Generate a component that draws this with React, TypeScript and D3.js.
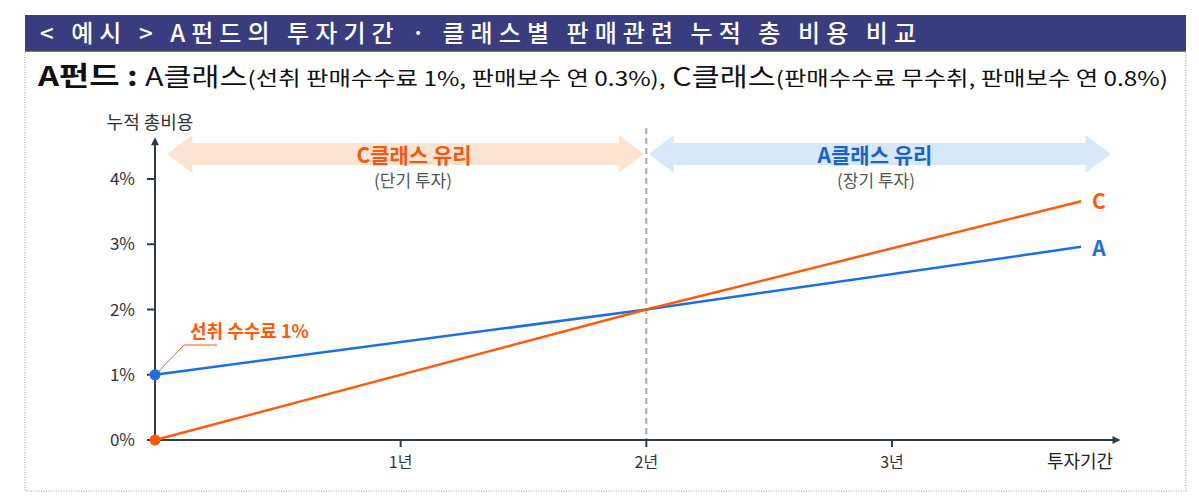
import * as d3 from 'd3'

// 투자기간(년) / 누적 총비용(%)
const years = [0, 2, 3.77]
const classA = [1, 2, 2.96]
const classC = [0, 2, 3.66]
const yTicks = [0, 1, 2, 3, 4]
const xTicks = [1, 2, 3]
const xTickLabels = ['1년', '2년', '3년']

const W = 1199, H = 498
const FONT = "'Noto Sans CJK KR', 'Noto Sans', sans-serif"
const AXIS = '#2f3a4b'
const BLUE = '#1b6fde'
const ORANGE = '#ff5a0a'

function doubleArrow(x0: number, x1: number, cy: number, h = 11, hh = 19, L = 25) {
  return [
    [x0, cy], [x0 + L, cy - hh], [x0 + L, cy - h], [x1 - L, cy - h], [x1 - L, cy - hh],
    [x1, cy], [x1 - L, cy + hh], [x1 - L, cy + h], [x0 + L, cy + h], [x0 + L, cy + hh],
  ].map(p => p.join(',')).join(' ')
}

export default function App() {
  const x = d3.scaleLinear().domain([0, 3]).range([155, 892])
  const y = d3.scaleLinear().domain([0, 4]).range([440, 179])
  const line = d3.line<number>().x((_, i) => x(years[i])).y(v => y(v))
  const xEnd = x(3.93), yTop = y(4.64)
  const mid = x(2)
  const arrowY = 154

  return (
    <svg width={W} height={H} style={{ position: 'absolute', left: 0, top: 0, background: '#fff' }} fontFamily={FONT}>
      {/* title bar */}
      <rect x={25} y={15} width={1161} height={36} fill="#3a3c80" />
      <line x1={25} x2={1186} y1={51} y2={51} stroke="#4a4a4a" strokeWidth={1.5} />
      <text x={40} y={42} fill="#fff" fontSize={24} fontWeight={500} textLength={876} lengthAdjust="spacing">
        {'< 예시 > A펀드의 투자기간 · 클래스별 판매관련 누적 총 비용 비교'}
      </text>
      {/* dotted frame */}
      <path d="M25,52 V491 H1186 V52" fill="none" stroke="#9a9a9a" strokeDasharray="1,1.5" />

      {/* subtitle */}
      <text x={38} y={86} fill="#111" textLength={1130} lengthAdjust="spacingAndGlyphs">
        <tspan fontSize={27} fontWeight={700}>A펀드 : </tspan>
        <tspan fontSize={25}>A클래스</tspan>
        <tspan fontSize={20}>(선취 판매수수료 1%, 판매보수 연 0.3%),</tspan>
        <tspan fontSize={25}>{'  C클래스'}</tspan>
        <tspan fontSize={20}>(판매수수료 무수취, 판매보수 연 0.8%)</tspan>
      </text>

      {/* zone arrows */}
      <polygon points={doubleArrow(x(0.05), x(1.99), arrowY)} fill="#fde4d2" />
      <polygon points={doubleArrow(x(2.01), x(3.89), arrowY)} fill="#d8e7f9" />
      <line x1={mid} x2={mid} y1={128} y2={y(0)} stroke="#a9a9a9" strokeWidth={2} strokeDasharray="6,4" />
      <text x={414} y={163} textAnchor="middle" fill="#f05a12" fontSize={21} fontWeight={700}>C클래스 유리</text>
      <text x={413} y={187} textAnchor="middle" fill="#555" fontSize={17}>(단기 투자)</text>
      <text x={875} y={163} textAnchor="middle" fill="#1a64c8" fontSize={21} fontWeight={700}>A클래스 유리</text>
      <text x={876} y={187} textAnchor="middle" fill="#555" fontSize={17}>(장기 투자)</text>

      {/* axes */}
      <line x1={x(0)} x2={x(0)} y1={y(0) + 1} y2={yTop + 6} stroke={AXIS} strokeWidth={2} />
      <polygon points={`${x(0) - 4},${yTop + 8} ${x(0)},${yTop} ${x(0) + 4},${yTop + 8}`} fill={AXIS} />
      <line x1={x(0) - 1} x2={xEnd - 6} y1={y(0)} y2={y(0)} stroke={AXIS} strokeWidth={2} />
      <polygon points={`${xEnd - 8},${y(0) - 4} ${xEnd},${y(0)} ${xEnd - 8},${y(0) + 4}`} fill={AXIS} />
      <text x={150} y={129} textAnchor="middle" fill="#333" fontSize={18}>누적 총비용</text>
      {yTicks.map(t => (
        <g key={t}>
          <line x1={x(0) - 8} x2={x(0)} y1={y(t)} y2={y(t)} stroke={AXIS} strokeWidth={2} />
          <text x={135} y={y(t) + 6} textAnchor="end" fill="#333" fontSize={17}>{t}%</text>
        </g>
      ))}
      {xTicks.map((t, i) => (
        <g key={t}>
          <line x1={x(t)} x2={x(t)} y1={y(0)} y2={y(0) + 7} stroke={AXIS} strokeWidth={2} />
          <text x={x(t)} y={468} textAnchor="middle" fill="#333" fontSize={16}>{xTickLabels[i]}</text>
        </g>
      ))}
      <text x={1080} y={468} textAnchor="middle" fill="#222" fontSize={18}>투자기간</text>

      {/* series */}
      <path d={line(classA) ?? ''} fill="none" stroke={BLUE} strokeWidth={2.5} />
      <path d={line(classC) ?? ''} fill="none" stroke={ORANGE} strokeWidth={2.5} />
      <circle cx={x(years[0])} cy={y(classA[0])} r={5.5} fill={BLUE} />
      <circle cx={x(years[0])} cy={y(classC[0])} r={5.5} fill={ORANGE} />
      <text x={1099} y={209} textAnchor="middle" fill={ORANGE} fontSize={21} fontWeight={700}>C</text>
      <text x={1099} y={256} textAnchor="middle" fill={BLUE} fontSize={21} fontWeight={700}>A</text>

      {/* callout */}
      <polyline points="159,371 184,345 217,345" fill="none" stroke={ORANGE} strokeWidth={1} />
      <text x={190} y={338} fill={ORANGE} fontSize={18} fontWeight={700}>선취 수수료 1%</text>
    </svg>
  )
}
